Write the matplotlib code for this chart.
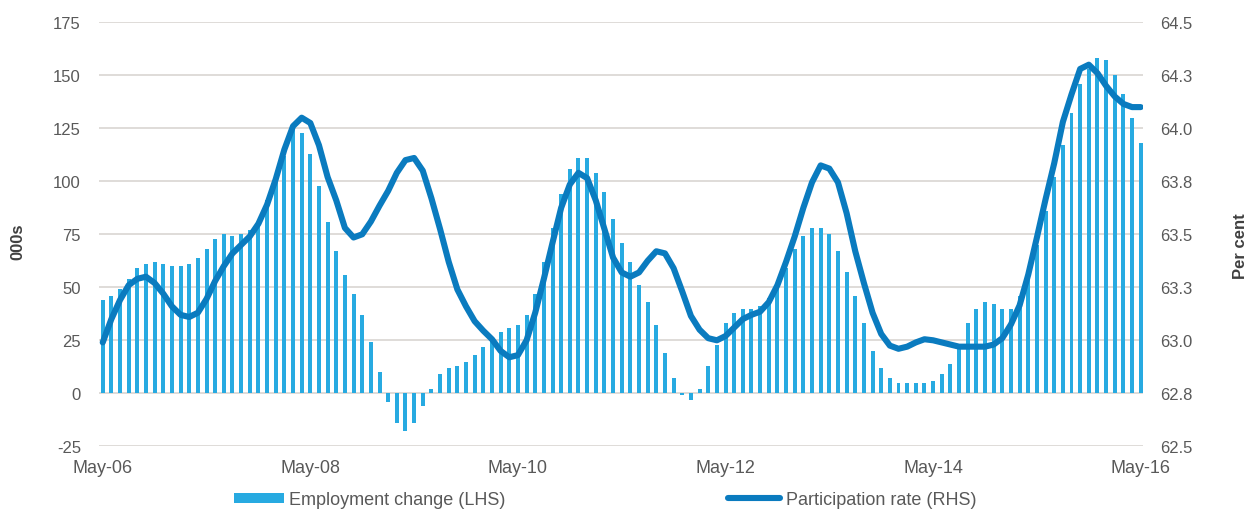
import matplotlib
matplotlib.use("Agg")
import matplotlib.pyplot as plt
from matplotlib.patches import Patch
from matplotlib.lines import Line2D

# ---------------- data ----------------
employment_change = [
    44, 46, 49, 54, 59, 61, 62, 61, 60, 60, 61, 64, 68, 73, 75, 74, 75, 77, 80, 91,
    100, 112, 125, 123, 113, 98, 81, 67, 56, 47, 37, 24, 10, -4, -14, -18, -14, -6, 2, 9,
    12, 13, 15, 18, 22, 25, 29, 31, 32, 37, 47, 62, 78, 94, 106, 111, 111, 104, 95, 82,
    71, 62, 51, 43, 32, 19, 7, -1, -3, 2, 13, 23, 33, 38, 40, 40, 41, 45, 51, 59,
    68, 74, 78, 78, 75, 67, 57, 46, 33, 20, 12, 7, 5, 5, 5, 5, 6, 9, 14, 23,
    33, 40, 43, 42, 40, 40, 46, 54, 70, 86, 102, 117, 132, 146, 153, 158, 157, 150, 141, 130,
    118,
]
participation_rate = [
    62.99, 63.10, 63.19, 63.26, 63.29, 63.30, 63.27, 63.22, 63.16, 63.12,
    63.11, 63.13, 63.195, 63.28, 63.35, 63.41, 63.45, 63.49, 63.55, 63.64,
    63.76, 63.90, 64.01, 64.05, 64.025, 63.92, 63.77, 63.66, 63.53, 63.485,
    63.50, 63.56, 63.635, 63.705, 63.79, 63.85, 63.86, 63.80, 63.67, 63.525,
    63.37, 63.24, 63.16, 63.09, 63.045, 63.005, 62.95, 62.92, 62.93, 63.00,
    63.13, 63.29, 63.46, 63.625, 63.735, 63.79, 63.765, 63.66, 63.525, 63.39,
    63.32, 63.30, 63.32, 63.375, 63.42, 63.41, 63.34, 63.23, 63.115, 63.05,
    63.01, 63.00, 63.02, 63.06, 63.10, 63.12, 63.135, 63.18, 63.26, 63.37,
    63.49, 63.625, 63.745, 63.825, 63.81, 63.745, 63.60, 63.42, 63.27, 63.13,
    63.03, 62.975, 62.96, 62.97, 62.99, 63.005, 63.00, 62.99, 62.98, 62.97,
    62.97, 62.97, 62.97, 62.98, 63.01, 63.075, 63.165, 63.31, 63.485, 63.665,
    63.835, 64.03, 64.16, 64.28, 64.30, 64.26, 64.20, 64.15, 64.115, 64.10,
    64.10,
]
months = list(range(len(employment_change)))

x_tick_positions = [0, 24, 48, 72, 96, 120]
x_tick_labels = ["May-06", "May-08", "May-10", "May-12", "May-14", "May-16"]

left_ticks = [-25, 0, 25, 50, 75, 100, 125, 150, 175]
left_tick_labels = ["-25", "0", "25", "50", "75", "100", "125", "150", "175"]
right_ticks = [62.5, 62.75, 63.0, 63.25, 63.5, 63.75, 64.0, 64.25, 64.5]
right_tick_labels = ["62.5", "62.8", "63.0", "63.3", "63.5", "63.8", "64.0", "64.3", "64.5"]

bar_label = "Employment change (LHS)"
line_label = "Participation rate (RHS)"
left_axis_title = "000s"
right_axis_title = "Per cent"

# ---------------- style ----------------
BAR_COLOR = "#27aae1"
LINE_COLOR = "#0a7bbf"
GRID_COLOR = "#dcd9d6"
TEXT_COLOR = "#595959"
TITLE_COLOR = "#404040"

plt.rcParams["font.family"] = ["Liberation Sans", "DejaVu Sans"]

fig = plt.figure(figsize=(12.5, 5.1), dpi=100)
ax = fig.add_axes([99 / 1250, 1 - 447.3 / 510, (1143.3 - 99) / 1250, (447.3 - 23.3) / 510])
ax2 = ax.twinx()

ax.bar(months, employment_change, width=0.46, color=BAR_COLOR, zorder=2)
ax2.plot(months, participation_rate, color=LINE_COLOR, lw=4.4,
         solid_capstyle="round", solid_joinstyle="round", zorder=3)

ax.set_xlim(-0.43, 120.3)
ax.set_ylim(-25, 175)
ax2.set_ylim(62.5, 64.5)

ax.set_yticks(left_ticks)
ax.set_yticklabels(left_tick_labels)
ax2.set_yticks(right_ticks)
ax2.set_yticklabels(right_tick_labels)
ax.set_xticks(x_tick_positions)
ax.set_xticklabels(x_tick_labels)

ax.grid(axis="y", color=GRID_COLOR, lw=1.3)
ax.set_axisbelow(True)

for a in (ax, ax2):
    for s in a.spines.values():
        s.set_visible(False)

ax.tick_params(axis="y", length=0, pad=13, labelsize=12, labelcolor=TEXT_COLOR)
ax.tick_params(axis="x", length=0, pad=9, labelsize=13, labelcolor=TEXT_COLOR)
ax2.tick_params(axis="y", length=0, pad=12, labelsize=12, labelcolor=TEXT_COLOR)

ax.set_ylabel(left_axis_title, fontsize=12, fontweight="bold", color=TITLE_COLOR)
ax.yaxis.set_label_coords(-0.0705, 0.485)
ax2.set_ylabel(right_axis_title, fontsize=12, fontweight="bold", color=TITLE_COLOR)
ax2.yaxis.set_label_coords(1.0855, 0.475)

# ---------------- legends ----------------
fs = 13
px_per_fs = fs * 100 / 72.0
leg1 = fig.legend(handles=[Patch(facecolor=BAR_COLOR, edgecolor="none", label=bar_label)],
                  loc="center left", bbox_to_anchor=(234 / 1250, 1 - 501 / 510),
                  frameon=False, fontsize=fs, borderpad=0, borderaxespad=0,
                  handlelength=50 / px_per_fs, handleheight=0.5,
                  handletextpad=5 / px_per_fs)
for t in leg1.get_texts():
    t.set_color(TEXT_COLOR)
leg2 = fig.legend(handles=[Line2D([0], [0], color=LINE_COLOR, lw=4.4,
                                  solid_capstyle="round", label=line_label)],
                  loc="center left", bbox_to_anchor=(728 / 1250, 1 - 501 / 510),
                  frameon=False, fontsize=fs, borderpad=0, borderaxespad=0,
                  handlelength=52 / px_per_fs, handletextpad=6 / px_per_fs)
for t in leg2.get_texts():
    t.set_color(TEXT_COLOR)

fig.savefig("out.png", dpi=100)
